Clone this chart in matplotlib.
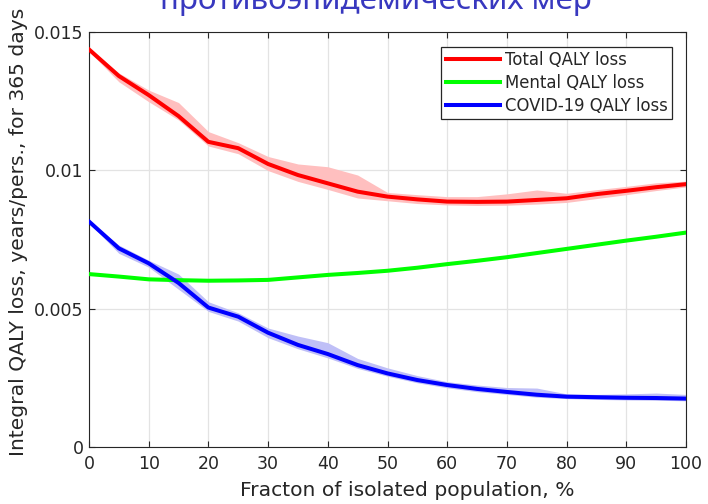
import matplotlib
matplotlib.use("Agg")
import matplotlib.pyplot as plt
import numpy as np

# ---- data ----
x = [0, 5, 10, 15, 20, 25, 30, 35, 40, 45, 50, 55, 60, 65, 70, 75, 80, 85, 90, 95, 100]

total_mean = [0.01437, 0.01341, 0.01272, 0.01196, 0.01103, 0.01080, 0.01023, 0.00983, 0.00953, 0.00923,
              0.00905, 0.00895, 0.00887, 0.00886, 0.00887, 0.00893, 0.00899, 0.00914, 0.00926, 0.00939, 0.00950]
total_upper = [0.01442, 0.01352, 0.01290, 0.01245, 0.01140, 0.01100, 0.01050, 0.01023, 0.01013, 0.00983,
               0.00920, 0.00912, 0.00905, 0.00905, 0.00915, 0.00929, 0.00917, 0.00930, 0.00942, 0.00955, 0.00961]
total_lower = [0.01430, 0.01320, 0.01248, 0.01182, 0.01088, 0.01060, 0.00999, 0.00960, 0.00931, 0.00900,
               0.00890, 0.00880, 0.00875, 0.00873, 0.00874, 0.00878, 0.00884, 0.00898, 0.00912, 0.00927, 0.00940]

mental_mean = [0.00625, 0.00616, 0.00606, 0.00603, 0.00601, 0.00602, 0.00604, 0.00613, 0.00622, 0.00629,
               0.00637, 0.00648, 0.00661, 0.00673, 0.00686, 0.00701, 0.00716, 0.00731, 0.00746, 0.00760, 0.00775]

covid_mean = [0.00815, 0.00718, 0.00664, 0.00593, 0.00504, 0.00471, 0.00413, 0.00369, 0.00336, 0.00296,
              0.00266, 0.00242, 0.00224, 0.00210, 0.00199, 0.00189, 0.00182, 0.00180, 0.00178, 0.00177, 0.00175]
covid_upper = [0.00818, 0.00730, 0.00675, 0.00625, 0.00525, 0.00485, 0.00430, 0.00401, 0.00377, 0.00320,
               0.00286, 0.00258, 0.00236, 0.00224, 0.00215, 0.00213, 0.00192, 0.00190, 0.00192, 0.00195, 0.00190]
covid_lower = [0.00810, 0.00700, 0.00650, 0.00570, 0.00490, 0.00455, 0.00395, 0.00355, 0.00322, 0.00284,
               0.00256, 0.00232, 0.00214, 0.00200, 0.00190, 0.00180, 0.00175, 0.00172, 0.00170, 0.00169, 0.00167]

labels = ["Total QALY loss", "Mental QALY loss", "COVID-19 QALY loss"]
title_text = "противоэпидемических мер"
xlabel = "Fracton of isolated population, %"
ylabel = "Integral QALY loss, years/pers., for 365 days"
xticks = [0, 10, 20, 30, 40, 50, 60, 70, 80, 90, 100]
yticks = [0, 0.005, 0.01, 0.015]
ytick_labels = ["0", "0.005", "0.01", "0.015"]

# ---- figure ----
plt.rcParams['font.family'] = ['DejaVu Sans']
fig = plt.figure(figsize=(7.08, 5.04), dpi=100)
ax = fig.add_axes([89/708, 1-447/504, (686-89)/708, (447-32)/504])

ax.fill_between(x, total_lower, total_upper, color=(1, 0.75, 0.75), lw=0, zorder=2)
ax.fill_between(x, covid_lower, covid_upper, color=(0.75, 0.75, 0.97), lw=0, zorder=2)

ax.plot(x, total_mean, color=(1, 0, 0), lw=2.9, label=labels[0], zorder=3, solid_joinstyle='round')
ax.plot(x, mental_mean, color=(0, 1, 0), lw=2.9, label=labels[1], zorder=3, solid_joinstyle='round')
ax.plot(x, covid_mean, color=(0, 0, 1), lw=2.9, label=labels[2], zorder=3, solid_joinstyle='round')

ax.set_xlim(0, 100)
ax.set_ylim(0, 0.015)
ax.set_xticks(xticks)
ax.set_xticklabels([str(t) for t in xticks])
ax.set_yticks(yticks)
ax.set_yticklabels(ytick_labels)

ax.grid(True, color='#e3e3e3', lw=0.9, zorder=0)
ax.set_axisbelow(True)
for s in ax.spines.values():
    s.set_color('#262626')
    s.set_linewidth(0.8)
ax.tick_params(direction='in', length=4, width=0.8, colors='#262626',
               labelsize=12.5, top=True, right=True)
ax.tick_params(axis='x', pad=6)
ax.tick_params(axis='y', pad=4)

ax.set_xlabel(xlabel, fontsize=14.6, color='#262626')
ax.set_ylabel(ylabel, fontsize=14.6, color='#262626')
ax.xaxis.set_label_coords((407.5-89)/597, -(490-447)/415)
ax.yaxis.set_label_coords(-(89-19)/597, (447-232)/415)
ax.xaxis.label.set_va('center')
ax.yaxis.label.set_va('center')

leg = ax.legend(loc='upper right', bbox_to_anchor=((672-89)/597, (447-47)/415),
                borderaxespad=0, fontsize=11.9, frameon=True, fancybox=False,
                edgecolor='#262626', framealpha=1, handlelength=3.3,
                handletextpad=0.3, borderpad=0.25, labelspacing=0.3)
leg.get_frame().set_linewidth(0.9)
for t in leg.get_texts():
    t.set_color('#262626')

fig.text(376/708, 1-9/504, title_text, ha='center', va='baseline',
         fontsize=22.6, color=(0.22, 0.22, 0.75), family=['Noto Sans', 'DejaVu Sans'])

fig.savefig("out.png", dpi=100)
